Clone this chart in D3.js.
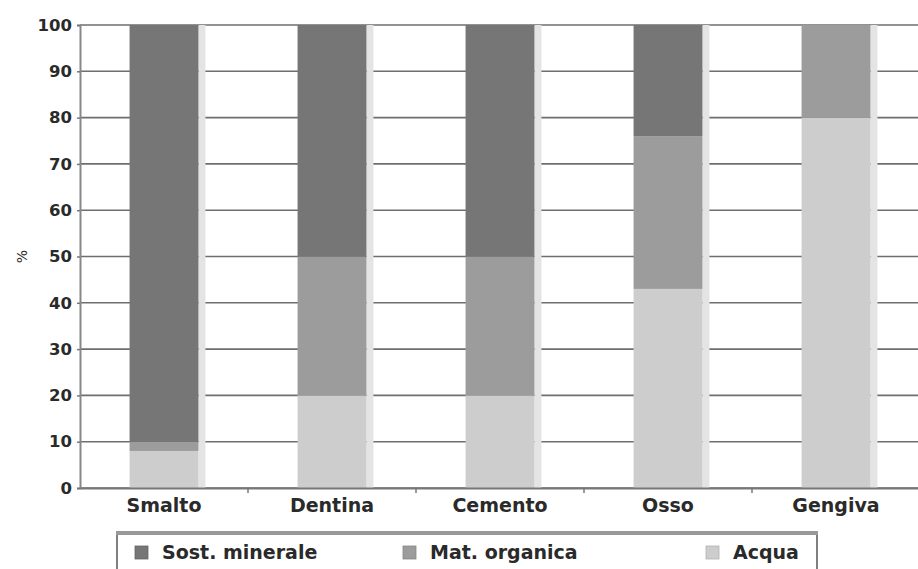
<!DOCTYPE html>
<html>
<head>
<meta charset="utf-8">
<script src="https://cdn.jsdelivr.net/npm/d3@7"></script>
<style>
  html, body { margin: 0; padding: 0; background: #fff; }
  svg { display: block; }
  text { font-family: "DejaVu Sans", sans-serif; font-weight: 700; fill: #2a2a2a; }
</style>
</head>
<body>
<svg id="chart" width="918" height="569"></svg>
<script>
// Composition of dental tissues (% by weight)
const categories = ["Smalto", "Dentina", "Cemento", "Osso", "Gengiva"];
const seriesNames = ["Acqua", "Mat. organica", "Sost. minerale"];
const acqua = [8, 20, 20, 43, 80];
const organica = [2, 30, 30, 33, 20];
const minerale = [90, 50, 50, 24, 0];
const yTicks = [0, 10, 20, 30, 40, 50, 60, 70, 80, 90, 100];
const legendOrder = ["Sost. minerale", "Mat. organica", "Acqua"];

const colors = {
  "Acqua": "#cdcdcd",
  "Mat. organica": "#9c9c9c",
  "Sost. minerale": "#767676"
};

const rows = categories.map((c, i) => ({
  cat: c,
  "Acqua": acqua[i],
  "Mat. organica": organica[i],
  "Sost. minerale": minerale[i]
}));

const svg = d3.select("#chart");
const margin = { left: 80, top: 25, right: -2, bottom: 81 };
const W = 918, H = 569;

const x = d3.scaleBand()
  .domain(categories)
  .range([margin.left, W - margin.right])
  .paddingInner(0.59)
  .paddingOuter(0.295);

const y = d3.scaleLinear().domain([0, 100]).range([H - margin.bottom, margin.top]);

// horizontal grid
svg.append("g")
  .selectAll("line")
  .data(yTicks)
  .join("line")
  .attr("x1", margin.left)
  .attr("x2", W)
  .attr("y1", d => y(d))
  .attr("y2", d => y(d))
  .attr("stroke", "#6e6e6e")
  .attr("stroke-width", 1.6);

// y axis
const yAxis = svg.append("g")
  .attr("transform", `translate(${margin.left},0)`)
  .call(d3.axisLeft(y).tickValues(yTicks).tickSize(3).tickPadding(5));
yAxis.select(".domain").attr("stroke", "#888").attr("stroke-width", 2);
yAxis.selectAll(".tick line").attr("stroke", "#777").attr("stroke-width", 1.5);
yAxis.selectAll("text")
  .style("font-size", "16.5px")
  .style("font-family", "'DejaVu Sans', sans-serif")
  .style("font-weight", "700")
  .attr("fill", "#222");

// stacked bars
const stack = d3.stack().keys(seriesNames);
const stacked = stack(rows);

// soft shadow strip to the right of each bar
svg.append("g")
  .selectAll("rect")
  .data(rows)
  .join("rect")
  .attr("x", d => x(d.cat) + x.bandwidth())
  .attr("width", 7)
  .attr("y", y(100))
  .attr("height", y(0) - y(100))
  .attr("fill", "#e4e4e4");

svg.append("g")
  .selectAll("g")
  .data(stacked)
  .join("g")
  .attr("fill", d => colors[d.key])
  .selectAll("rect")
  .data(d => d)
  .join("rect")
  .attr("x", d => x(d.data.cat))
  .attr("width", x.bandwidth())
  .attr("y", d => y(d[1]))
  .attr("height", d => y(d[0]) - y(d[1]));

// x axis
const xAxis = svg.append("g")
  .attr("transform", `translate(0,${y(0)})`)
  .call(d3.axisBottom(x).tickSize(0).tickPadding(11));
xAxis.select(".domain").attr("stroke", "#777").attr("stroke-width", 2);
xAxis.selectAll("text")
  .style("font-size", "19px")
  .style("font-family", "'DejaVu Sans', sans-serif")
  .style("font-weight", "700")
  .attr("fill", "#2a2a2a");

// tick marks between categories
const step = x.step();
svg.append("g")
  .selectAll("line")
  .data(categories.slice(1))
  .join("line")
  .attr("x1", d => x(d) - (step - x.bandwidth()) / 2)
  .attr("x2", d => x(d) - (step - x.bandwidth()) / 2)
  .attr("y1", y(0))
  .attr("y2", y(0) + 5)
  .attr("stroke", "#777")
  .attr("stroke-width", 1.5);

// y axis title
svg.append("text")
  .attr("transform", `translate(27,${y(50)}) rotate(-90)`)
  .attr("text-anchor", "middle")
  .style("font-size", "14px")
  .style("font-weight", "400")
  .attr("fill", "#777")
  .text("%");

// legend
const lg = svg.append("g");
lg.append("rect")
  .attr("x", 117).attr("y", 533)
  .attr("width", 700).attr("height", 60)
  .attr("fill", "#fff")
  .attr("stroke", "#555")
  .attr("stroke-width", 1.5);
lg.append("line")
  .attr("x1", 116).attr("x2", 818)
  .attr("y1", 533).attr("y2", 533)
  .attr("stroke", "#999").attr("stroke-width", 4);

const legendX = { "Sost. minerale": 135, "Mat. organica": 403, "Acqua": 706 };
const items = lg.selectAll("g.item")
  .data(legendOrder)
  .join("g")
  .attr("class", "item")
  .attr("transform", d => `translate(${legendX[d]},546)`);
items.append("rect")
  .attr("width", 13).attr("height", 13)
  .attr("fill", d => colors[d])
  .attr("stroke", d => d3.color(colors[d]).darker(0.4))
  .attr("stroke-width", 0.8);
items.append("text")
  .attr("x", 27).attr("y", 13)
  .style("font-size", "19px")
  .style("font-weight", "700")
  .text(d => d);
</script>
</body>
</html>
